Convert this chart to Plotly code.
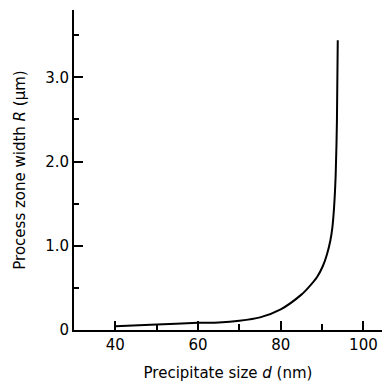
import plotly.graph_objects as go

# Data
d_nm = [40, 50, 60, 65, 70, 75, 80, 85, 86.8, 88.8, 90.2, 91.2, 92.0, 92.5, 92.9, 93.3, 93.6, 93.8]
R_um = [0.045, 0.065, 0.085, 0.09, 0.11, 0.15, 0.245, 0.42, 0.51, 0.63, 0.76, 0.90, 1.06, 1.22, 1.45, 1.85, 2.49, 3.44]

x_tickvals = [40, 60, 80, 100]
x_ticktext = ["40", "60", "80", "100"]
x_minorvals = [50, 70, 90]
y_tickvals = [0, 1, 2, 3]
y_ticktext = ["0", "1.0", "2.0", "3.0"]
y_minorvals = [0.5, 1.5, 2.5, 3.5]

font_family = "DejaVu Sans, Liberation Sans, sans-serif"

fig = go.Figure()
fig.add_trace(go.Scatter(
    x=d_nm, y=R_um, mode="lines",
    line=dict(color="black", width=2, shape="spline", smoothing=0.8),
    showlegend=False, hoverinfo="skip",
))

fig.update_layout(
    width=382, height=386,
    margin=dict(l=74, r=0, t=10, b=56),
    paper_bgcolor="white", plot_bgcolor="white",
    font=dict(family=font_family, size=15, color="black"),
)

fig.update_xaxes(
    range=[30, 104.5],
    tickmode="array", tickvals=x_tickvals, ticktext=x_ticktext,
    ticks="inside", ticklen=9, tickwidth=1.5, tickcolor="black",
    minor=dict(tickmode="array", tickvals=x_minorvals, ticks="inside", ticklen=6, tickwidth=1.5, tickcolor="black"),
    showline=True, linecolor="black", linewidth=2,
    showgrid=False, zeroline=False,
    tickfont=dict(size=15),
    title=dict(text="Precipitate size <i>d</i> (nm)", font=dict(size=15), standoff=14),
)
fig.update_yaxes(
    range=[0, 3.8],
    tickmode="array", tickvals=y_tickvals, ticktext=y_ticktext,
    ticks="inside", ticklen=9, tickwidth=1.5, tickcolor="black",
    minor=dict(tickmode="array", tickvals=y_minorvals, ticks="inside", ticklen=5, tickwidth=1.5, tickcolor="black"),
    showline=True, linecolor="black", linewidth=2,
    showgrid=False, zeroline=False,
    tickfont=dict(size=15),
    title=dict(text="Process zone width <i>R</i> (μm)", font=dict(size=15), standoff=16),
)

fig.write_html("out.html")
